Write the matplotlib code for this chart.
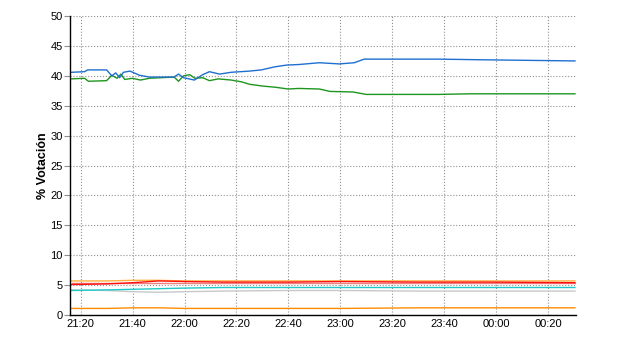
import matplotlib
matplotlib.use("Agg")
import matplotlib.pyplot as plt
import matplotlib.dates as mdates
import pandas as pd

plt.rcParams['font.family'] = ['Liberation Sans', 'DejaVu Sans']

# minutes after 21:20 and % vote
blue_t = [-3.5, 1.5, 2.7, 10, 12, 13.5, 15, 16.5, 19, 22.7, 26.5, 36, 37.7, 39.6, 43.8, 47,
          49.6, 53.5, 58, 65, 69.6, 74.6, 79.2, 84, 92, 99.6, 105.4, 109.2, 138, 153.5, 190.4]
blue_v = [40.6, 40.7, 41.0, 41.0, 40.0, 40.5, 39.7, 40.6, 40.8, 40.1, 39.8, 39.8, 40.3, 39.7, 39.3, 40.2,
          40.7, 40.3, 40.6, 40.8, 41.0, 41.5, 41.8, 41.9, 42.2, 42.0, 42.2, 42.8, 42.8, 42.7, 42.5]

green_t = [-3.5, 1.5, 3, 10, 12, 14, 15.5, 17, 20, 23, 26.5, 36, 37.7, 39.6, 42, 44, 47, 49.6,
           53, 58, 62, 65, 70, 75, 80, 84, 92, 96, 105, 110, 138, 150, 190.4]
green_v = [39.5, 39.6, 39.1, 39.2, 40.1, 39.6, 40.3, 39.4, 39.6, 39.3, 39.6, 39.8, 39.1, 40.0, 40.2, 39.6, 39.7, 39.2,
           39.5, 39.3, 39.0, 38.6, 38.3, 38.1, 37.8, 37.9, 37.8, 37.4, 37.3, 36.9, 36.9, 37.0, 37.0]

low_t = [-3.5, 10, 20, 30, 40, 55, 80, 100, 130, 160, 190.4]
yellow_v = [5.7, 5.7, 5.8, 5.8, 5.7, 5.7, 5.7, 5.7, 5.7, 5.7, 5.7]
red_v = [5.1, 5.2, 5.4, 5.7, 5.6, 5.5, 5.5, 5.6, 5.5, 5.5, 5.4]
salmon_v = [5.3, 5.3, 5.3, 5.3, 5.3, 5.3, 5.3, 5.3, 5.3, 5.3, 5.3]
cyan_v = [4.1, 4.2, 4.3, 4.4, 4.5, 4.6, 4.6, 4.6, 4.6, 4.6, 4.6]
gray_v = [4.2, 4.1, 3.9, 3.8, 3.9, 4.0, 4.1, 4.1, 4.0, 4.0, 4.0]
orange_v = [1.1, 1.1, 1.2, 1.2, 1.1, 1.1, 1.1, 1.1, 1.2, 1.2, 1.2]

start = pd.Timestamp("2011-11-20 21:20")


def to_time(mins):
    return [start + pd.Timedelta(minutes=m) for m in mins]


fig = plt.figure(figsize=(6.4, 3.5), dpi=100)
ax = fig.add_axes([0.109, 0.1, 0.791, 0.854])

ax.plot(to_time(low_t), orange_v, color='#FF8C00', lw=1)
ax.plot(to_time(low_t), gray_v, color='#C8C8C8', lw=1)
ax.plot(to_time(low_t), cyan_v, color='#20C8C8', lw=1)
ax.plot(to_time(low_t), salmon_v, color='#F08080', lw=1)
ax.plot(to_time(low_t), yellow_v, color='#FFB040', lw=1)
ax.plot(to_time(low_t), red_v, color='#FF1010', lw=1)
ax.plot(to_time(green_t), green_v, color='#1E961E', lw=1)
ax.plot(to_time(blue_t), blue_v, color='#1F6FD0', lw=1)

ax.set_xlim(start - pd.Timedelta(minutes=4.2), start + pd.Timedelta(minutes=190.8))
ax.set_ylim(0, 50)
ax.set_yticks(range(0, 51, 5))
ax.xaxis.set_major_locator(mdates.MinuteLocator(byminute=[0, 20, 40]))
ax.xaxis.set_major_formatter(mdates.DateFormatter('%H:%M'))

ax.grid(True, color='#909090', linestyle=':', linewidth=0.8)
ax.set_axisbelow(True)
for s in ['top', 'right']:
    ax.spines[s].set_visible(False)
ax.spines['left'].set_linewidth(1)
ax.spines['bottom'].set_linewidth(1)
ax.tick_params(axis='y', length=4, color='#909090', labelsize=8, pad=1)
ax.tick_params(axis='x', length=0, labelsize=8, pad=3)
ax.set_ylabel('% Votación', fontsize=9, fontweight='bold', labelpad=1)

fig.savefig('out.png', dpi=100)
